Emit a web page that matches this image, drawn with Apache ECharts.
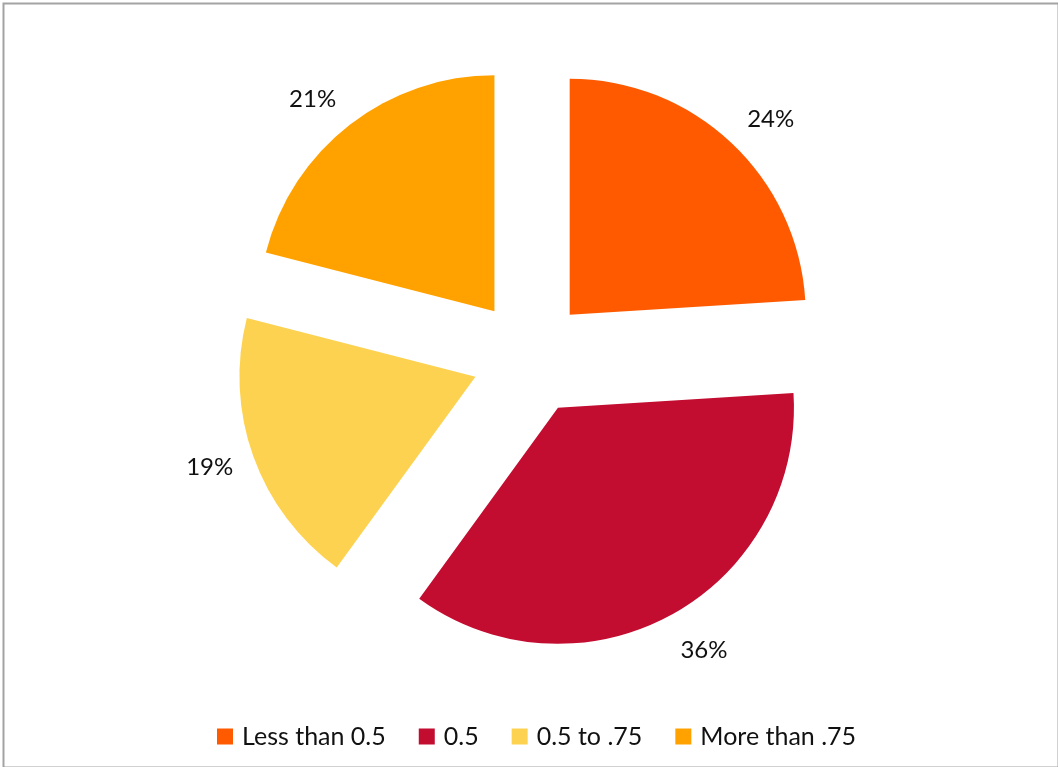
<!DOCTYPE html>
<html>
<head>
<meta charset="utf-8">
<script src="https://cdn.jsdelivr.net/npm/echarts@6/dist/echarts.min.js"></script>
<style>
  html, body { margin: 0; padding: 0; background: #fff; }
  #chart { width: 1058px; height: 767px; }
</style>
</head>
<body>
<div id="chart"></div>
<script>
// Share of each ratio band, in percent
const categories = ['Less than 0.5', '0.5', '0.5 to .75', 'More than .75'];
const shares = [24, 36, 19, 21];
const sliceColors = ['#FF5A00', '#C20C30', '#FDD250', '#FFA200'];

// Per-slice nudges for the percentage labels
const labelLineLengths = [32, 41, 31, 32];
const labelGaps = [-6, -11, -9, -6];

const FONT = 'Lato, "Open Sans", sans-serif';

const chart = echarts.init(document.getElementById('chart'), null, { renderer: 'canvas' });

const pieData = categories.map((name, i) => ({
  name: name,
  value: shares[i],
  selected: true,
  itemStyle: { color: sliceColors[i] },
  label: { distanceToLabelLine: labelGaps[i] },
  labelLine: { length: labelLineLengths[i] }
}));

chart.setOption({
  animation: false,
  backgroundColor: '#ffffff',
  graphic: [{
    type: 'rect',
    left: 1, top: 1,
    shape: { width: 1055, height: 764 },
    style: { fill: 'none', stroke: '#a3a3a3', lineWidth: 2 },
    silent: true
  }],
  legend: {
    data: categories,
    top: 719,
    left: 212,
    icon: 'rect',
    itemWidth: 16,
    itemHeight: 16,
    itemGap: 33,
    textStyle: { fontFamily: FONT, fontSize: 25, color: '#111', padding: [0, 0, 0, 4] },
    selectedMode: false
  },
  series: [{
    type: 'pie',
    center: [530, 357],
    radius: [0, 236],
    startAngle: 90,
    clockwise: true,
    selectedMode: 'multiple',
    selectedOffset: 58,
    avoidLabelOverlap: false,
    emphasis: { disabled: true },
    label: {
      show: true,
      position: 'outside',
      formatter: '{c}%',
      fontFamily: FONT,
      fontSize: 24,
      color: '#111'
    },
    labelLine: { show: false, length2: 0 },
    data: pieData
  }]
});
</script>
</body>
</html>
